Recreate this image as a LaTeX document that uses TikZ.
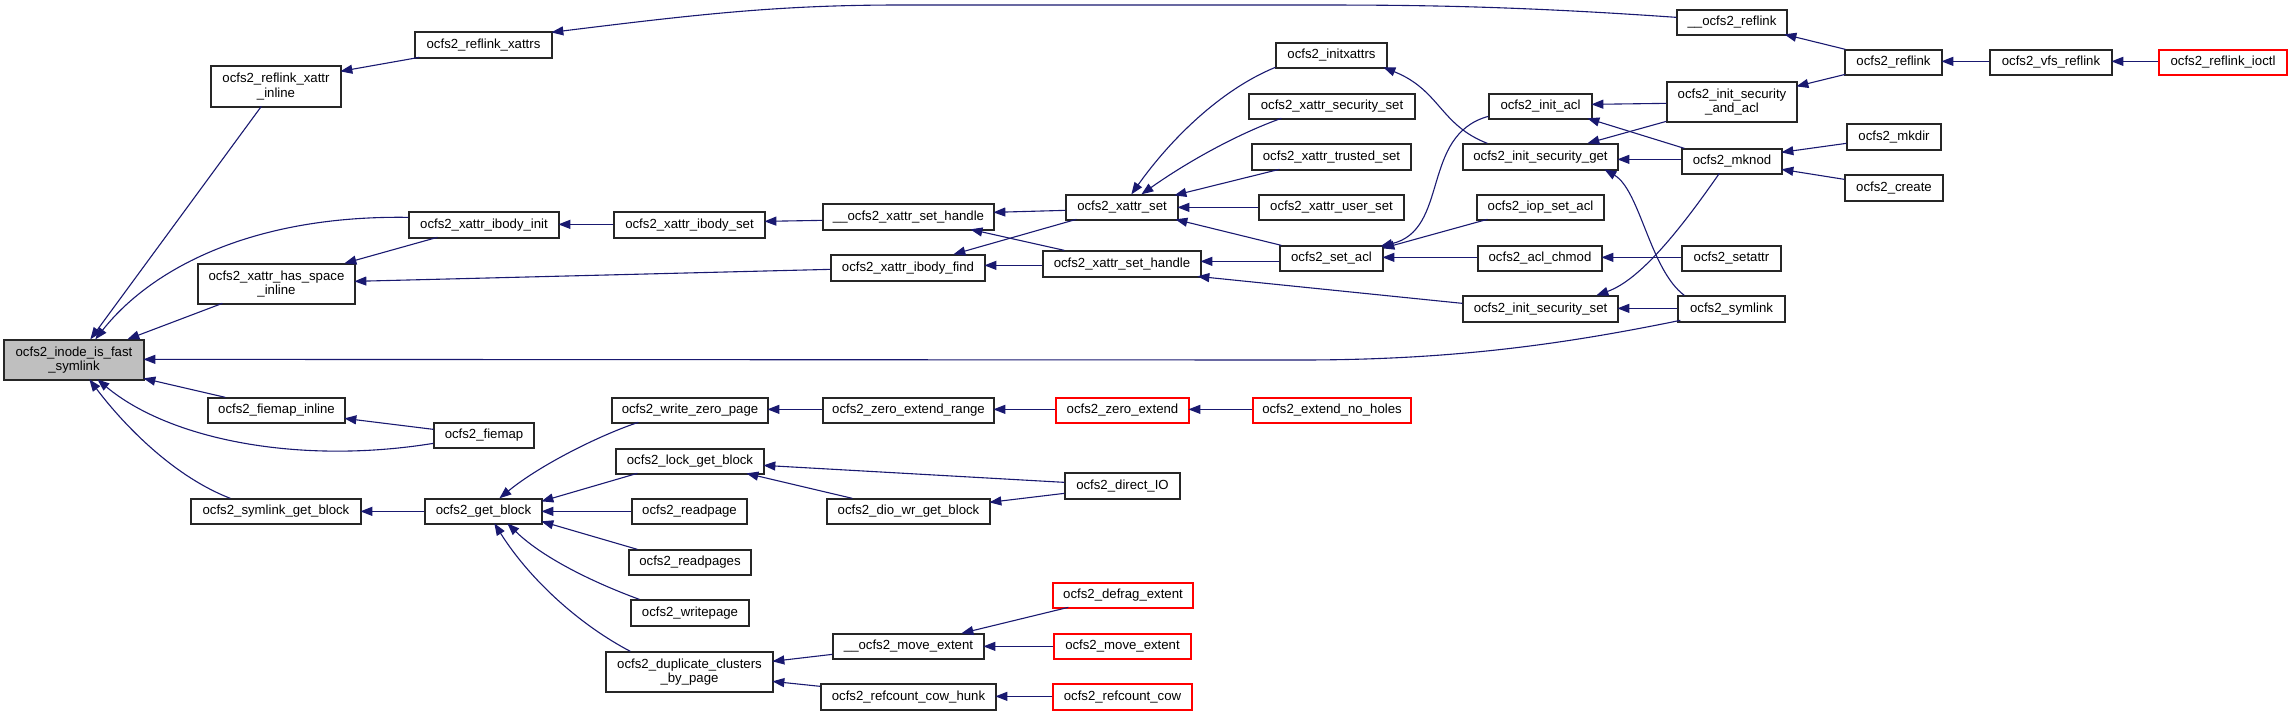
\documentclass[tikz,border=0pt]{standalone}
\usepackage{fontspec}
\setmainfont{Liberation Sans}
\usetikzlibrary{arrows.meta,calc}
\definecolor{edgec}{HTML}{191970}
\definecolor{redb}{HTML}{FF0000}
\tikzset{
  box/.style={draw=black!85, line width=1.3pt, fill=white, inner sep=0pt, align=center,
    font=\fontsize{13.2}{14.5}\selectfont},
  redbox/.style={draw=redb},
  edge/.style={draw=edgec, line width=1.1pt, -{Triangle[length=12pt,width=9pt]}},
}
\newcommand\mknode[7][]{\node[box,#1,minimum width={(#5-#3)*1pt},minimum height={(#6-#4)*1pt}] (#2) at ({(#3+#5)/2},{(#4+#6)/2}) {#7};}
\newcommand\edg[6]{\draw[edge] ($(#1.north west)+(#2,#3)$) -- ($(#4.north west)+(#5,#6)$);}
\begin{document}
\begin{tikzpicture}[x=1pt,y=-1pt]
\useasboundingbox (0,0) rectangle (2292,716);
\mknode[fill=black!25]{inode}{4}{340}{144}{380}{ocfs2\_inode\_is\_fast\\\_symlink}
\mknode{rxi}{211}{66}{341}{107}{ocfs2\_reflink\_xattr\\\_inline}
\mknode{rxs}{415}{32}{552}{58}{ocfs2\_reflink\_xattrs}
\mknode{ibi}{409}{212}{559}{238}{ocfs2\_xattr\_ibody\_init}
\mknode{hsi}{198}{264}{355}{304}{ocfs2\_xattr\_has\_space\\\_inline}
\mknode{fmi}{208}{398}{345}{423}{ocfs2\_fiemap\_inline}
\mknode{fm}{434}{423}{534}{448}{ocfs2\_fiemap}
\mknode{sgb}{191}{499}{361}{524}{ocfs2\_symlink\_get\_block}
\mknode{gb}{425}{499}{542}{524}{ocfs2\_get\_block}
\mknode{ibs}{614}{212}{765}{238}{ocfs2\_xattr\_ibody\_set}
\mknode{xshb}{823}{204}{994}{230}{\_\_ocfs2\_xattr\_set\_handle}
\mknode{ibf}{831}{255}{985}{281}{ocfs2\_xattr\_ibody\_find}
\mknode{xs}{1066}{195}{1178}{220}{ocfs2\_xattr\_set}
\mknode{xsh}{1043}{251}{1201}{277}{ocfs2\_xattr\_set\_handle}
\mknode{ix}{1276}{43}{1387}{68}{ocfs2\_initxattrs}
\mknode{xss}{1249}{94}{1415}{119}{ocfs2\_xattr\_security\_set}
\mknode{xts}{1252}{144}{1411}{170}{ocfs2\_xattr\_trusted\_set}
\mknode{xus}{1259}{195}{1404}{220}{ocfs2\_xattr\_user\_set}
\mknode{sa}{1280}{246}{1383}{271}{ocfs2\_set\_acl}
\mknode{ia}{1489}{94}{1592}{119}{ocfs2\_init\_acl}
\mknode{isg}{1463}{144}{1618}{170}{ocfs2\_init\_security\_get}
\mknode{isa}{1477}{195}{1604}{220}{ocfs2\_iop\_set\_acl}
\mknode{ac}{1478}{246}{1602}{271}{ocfs2\_acl\_chmod}
\mknode{iss}{1463}{296}{1618}{322}{ocfs2\_init\_security\_set}
\mknode{ur}{1677}{10}{1787}{35}{\_\_ocfs2\_reflink}
\mknode{isaa}{1667}{82}{1797}{122}{ocfs2\_init\_security\\\_and\_acl}
\mknode{mk}{1682}{149}{1782}{174}{ocfs2\_mknod}
\mknode{st}{1682}{246}{1781}{271}{ocfs2\_setattr}
\mknode{sy}{1678}{296}{1785}{322}{ocfs2\_symlink}
\mknode{rf}{1845}{50}{1942}{75}{ocfs2\_reflink}
\mknode{vr}{1990}{50}{2112}{75}{ocfs2\_vfs\_reflink}
\mknode[redbox]{ri}{2159}{50}{2287}{75}{ocfs2\_reflink\_ioctl}
\mknode{md}{1847}{124}{1941}{150}{ocfs2\_mkdir}
\mknode{cr}{1845}{175}{1943}{201}{ocfs2\_create}
\mknode{wzp}{612}{398}{768}{423}{ocfs2\_write\_zero\_page}
\mknode{lgb}{616}{449}{764}{474}{ocfs2\_lock\_get\_block}
\mknode{rp}{632}{499}{747}{524}{ocfs2\_readpage}
\mknode{rps}{629}{550}{751}{575}{ocfs2\_readpages}
\mknode{wp}{631}{600}{749}{626}{ocfs2\_writepage}
\mknode{dcp}{606}{652}{773}{692}{ocfs2\_duplicate\_clusters\\\_by\_page}
\mknode{zer}{823}{398}{994}{423}{ocfs2\_zero\_extend\_range}
\mknode{dwg}{827}{499}{990}{524}{ocfs2\_dio\_wr\_get\_block}
\mknode{ume}{833}{634}{984}{659}{\_\_ocfs2\_move\_extent}
\mknode{rch}{821}{684}{996}{710}{ocfs2\_refcount\_cow\_hunk}
\mknode[redbox]{ze}{1056}{398}{1189}{423}{ocfs2\_zero\_extend}
\mknode{dio}{1065}{473}{1180}{499}{ocfs2\_direct\_IO}
\mknode[redbox]{de}{1053}{583}{1193}{608}{ocfs2\_defrag\_extent}
\mknode[redbox]{me}{1054}{634}{1191}{659}{ocfs2\_move\_extent}
\mknode[redbox]{rc}{1053}{684}{1192}{710}{ocfs2\_refcount\_cow}
\mknode[redbox]{enh}{1253}{398}{1411}{423}{ocfs2\_extend\_no\_holes}
% straight edges
\edg{rxi}{51}{41}{inode}{87}{0}
\edg{hsi}{25}{40}{inode}{124}{0}
\edg{fmi}{18}{0}{inode}{140}{39}
\edg{rxs}{5}{26}{rxi}{130}{6}
\edg{ibi}{29}{26}{hsi}{147}{0}
\edg{ibf}{0}{15}{hsi}{157}{18}
\edg{ibs}{0}{13}{ibi}{150}{13}
\edg{xshb}{0}{17}{ibs}{151}{10}
\edg{xs}{0}{16}{xshb}{171}{9}
\edg{xsh}{22}{0}{xshb}{148}{26}
\edg{xs}{11}{25}{ibf}{123}{0}
\edg{xsh}{0}{15}{ibf}{154}{11}
\edg{xts}{28}{26}{xs}{109}{1}
\edg{xus}{0}{13}{xs}{112}{13}
\edg{sa}{2}{0}{xs}{110}{25}
\edg{sa}{0}{16}{xsh}{158}{11}
\edg{iss}{0}{8}{xsh}{155}{26}
\edg{isa}{11}{25}{sa}{103}{3}
\edg{ac}{0}{12}{sa}{103}{12}
\edg{isaa}{0}{22}{ia}{103}{11}
\edg{mk}{3}{0}{ia}{99}{25}
\edg{isaa}{0}{40}{isg}{125}{0}
\edg{mk}{0}{11}{isg}{155}{16}
\edg{sy}{0}{13}{iss}{155}{13}
\edg{st}{0}{12}{ac}{124}{12}
\edg{rf}{1}{0}{ur}{108}{25}
\edg{rf}{1}{25}{isaa}{130}{5}
\edg{vr}{0}{12}{rf}{97}{12}
\edg{ri}{0}{12}{vr}{122}{12}
\edg{md}{0}{20}{mk}{100}{4}
\edg{cr}{0}{5}{mk}{100}{21}
\edg{fm}{0}{7}{fmi}{137}{21}
\edg{gb}{0}{13}{sgb}{170}{13}
\edg{lgb}{22}{25}{gb}{117}{3}
\edg{rp}{0}{13}{gb}{117}{13}
\edg{rps}{9}{0}{gb}{117}{23}
\edg{zer}{0}{12}{wzp}{156}{12}
\edg{ze}{0}{12}{zer}{171}{12}
\edg{enh}{0}{12}{ze}{133}{12}
\edg{dio}{0}{10}{lgb}{148}{17}
\edg{dwg}{26}{0}{lgb}{131}{25}
\edg{dio}{0}{21}{dwg}{163}{4}
\edg{ume}{0}{21}{dcp}{167}{10}
\edg{rch}{0}{3}{dcp}{167}{30}
\edg{de}{16}{25}{ume}{129}{0}
\edg{me}{0}{13}{ume}{151}{13}
\edg{rc}{0}{13}{rch}{175}{13}
% curved edges
\draw[edge] ($(ibi.north west)+(0,6)$) .. controls (250,215) and (150,270) .. ($(inode.north west)+(92,0)$);
\draw[edge] ($(sy.north west)+(3,25)$) .. controls (1560,345) and (1450,360) .. (1300,360) -- ($(inode.north west)+(140,20)$);
\draw[edge] ($(fm.north west)+(0,21)$) .. controls (300,465) and (170,440) .. ($(inode.north west)+(94,40)$);
\draw[edge] ($(sgb.north west)+(40,0)$) .. controls (170,475) and (120,420) .. ($(inode.north west)+(86,40)$);
\draw[edge] ($(ur.north west)+(0,8)$) .. controls (1500,5) and (1400,5) .. (1300,5) -- (900,5) .. controls (780,5) and (700,14) .. ($(rxs.north west)+(137,1)$);
\draw[edge] ($(ix.north west)+(0,25)$) .. controls (1220,90) and (1170,140) .. ($(xs.north west)+(66,0)$);
\draw[edge] ($(xss.north west)+(33,25)$) .. controls (1240,133) and (1190,160) .. ($(xs.north west)+(76,0)$);
\draw[edge] ($(isg.north west)+(25,0)$) .. controls (1440,125) and (1440,90) .. ($(ix.north west)+(108,25)$);
\draw[edge] ($(ia.north west)+(0,23)$) .. controls (1420,135) and (1450,230) .. ($(sa.north west)+(101,1)$);
\draw[edge] ($(sy.north west)+(7,0)$) .. controls (1650,270) and (1640,190) .. ($(isg.north west)+(142,26)$);
\draw[edge] ($(mk.north west)+(38,25)$) .. controls (1680,230) and (1640,280) .. ($(iss.north west)+(134,0)$);
\draw[edge] ($(wzp.north west)+(27,25)$) .. controls (600,435) and (540,465) .. ($(gb.north west)+(75,0)$);
\draw[edge] ($(wp.north west)+(9,0)$) .. controls (600,585) and (545,560) .. ($(gb.north west)+(83,25)$);
\draw[edge] ($(dcp.north west)+(25,0)$) .. controls (580,625) and (530,580) .. ($(gb.north west)+(70,25)$);
\end{tikzpicture}
\end{document}
